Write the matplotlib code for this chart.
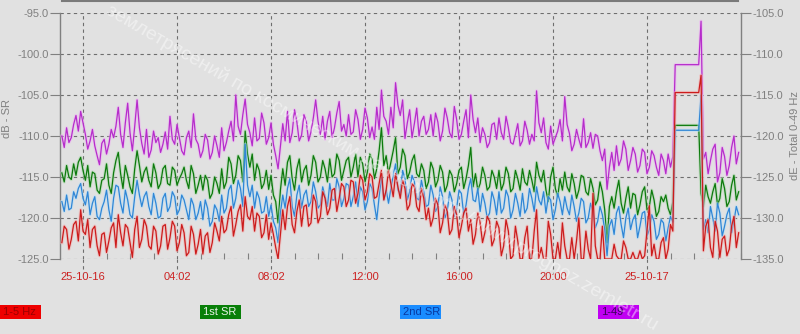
import numpy as np
import matplotlib.pyplot as plt
import matplotlib.patheffects as pe
from matplotlib.lines import Line2D
from matplotlib.patches import Rectangle
from matplotlib.ticker import MultipleLocator, FormatStrFormatter

# time axis: hours from 25-10-16 00:00, one sample every 0.1 h (one row = 1 h)
t_start = -0.9
t_step = 0.1

total_0_49 = [
    -110.0, -111.4, -109.0, -110.8, -110.2, -108.6, -107.5, -109.4, -107.0, -108.4,
    -109.8, -111.6, -110.6, -109.2, -111.2, -112.4, -113.5, -110.9, -110.4, -112.2,
    -111.0, -109.2, -110.2, -108.8, -106.5, -109.8, -111.4, -108.4, -106.0, -109.6,
    -111.8, -108.8, -105.6, -109.0, -110.9, -112.2, -109.2, -112.6, -111.7, -109.4,
    -110.8, -110.2, -112.0, -111.0, -109.5, -111.6, -107.6, -110.4, -111.0, -108.6,
    -110.2, -111.8, -112.3, -110.2, -109.4, -111.4, -107.3, -110.4, -111.0, -112.6,
    -111.8, -109.8, -110.5, -112.8, -112.0, -110.0, -111.2, -112.6, -109.0, -111.8,
    -110.8, -109.4, -108.2, -110.6, -105.0, -108.8, -109.8, -107.4, -105.5, -108.6,
    -109.6, -111.2, -107.8, -110.6, -110.3, -107.2, -108.4, -111.0, -110.2, -108.4,
    -111.0, -112.4, -114.0, -111.2, -108.5, -110.6, -107.0, -110.8, -109.6, -106.8,
    -108.3, -110.6, -109.9, -107.4, -108.2, -110.6, -109.5, -107.8, -105.6, -108.2,
    -109.8, -107.6, -110.4, -108.2, -107.0, -110.2, -109.0, -107.2, -105.8, -109.4,
    -108.6, -110.0, -107.4, -109.8, -109.5, -106.8, -108.0, -110.4, -109.2, -106.6,
    -107.8, -110.2, -108.9, -110.4, -106.5, -109.2, -104.4, -107.6, -108.2, -109.8,
    -106.5, -109.0, -103.5, -106.2, -107.5, -105.6, -110.3, -108.4, -106.8, -110.2,
    -108.5, -106.6, -110.0, -108.2, -107.6, -109.8, -109.2, -107.4, -110.0, -107.2,
    -108.3, -110.6, -109.4, -106.6, -107.8, -109.6, -110.2, -106.4, -108.0, -110.4,
    -109.8, -108.2, -106.8, -110.2, -105.0, -108.0, -109.6, -107.8, -110.8, -109.0,
    -109.8, -111.4, -110.8, -108.6, -108.4, -110.4, -107.8, -109.6, -110.4, -107.6,
    -109.0, -110.8, -111.0, -109.8, -108.5, -111.2, -110.6, -108.2, -109.3, -111.0,
    -109.8, -110.6, -104.5, -108.4, -109.6, -107.8, -110.8, -111.6, -108.8, -111.0,
    -110.2, -109.4, -108.0, -110.6, -105.2, -108.6, -109.7, -111.8, -111.0, -109.2,
    -110.4, -111.4, -107.9, -111.4, -110.8, -109.6, -111.5, -109.8, -110.0, -111.8,
    -113.0, -111.6, -116.5, -113.8, -112.0, -114.2, -111.2, -113.6, -112.8, -110.6,
    -111.6, -114.2, -113.0, -111.4, -112.2, -114.4, -113.6, -111.6, -112.0, -114.6,
    -113.8, -111.8, -112.4, -113.8, -114.8, -112.2, -113.0, -114.6, -112.2, -113.8,
    -112.5, -101.3, -101.3, -101.3, -101.3, -101.3, -101.3, -101.3, -101.3, -101.3,
    -101.3, -101.3, -96.0, -112.8, -112.0, -114.6, -113.0, -111.6, -111.0, -115.6,
    -114.5, -111.4, -112.5, -114.8, -113.6, -111.4, -110.0, -113.4, -112.0,
]

sr_1st = [
    -114.5, -115.6, -113.6, -115.0, -115.3, -113.4, -114.8, -113.2, -112.6, -114.2,
    -115.4, -113.6, -116.2, -114.4, -114.6, -116.6, -117.0, -115.4, -115.2, -113.4,
    -116.0, -117.0, -114.5, -113.0, -112.0, -114.6, -116.4, -113.6, -114.8, -116.2,
    -117.0, -114.0, -111.8, -113.6, -115.6, -114.4, -113.8, -115.4, -116.2, -113.4,
    -114.5, -116.4, -115.8, -114.0, -113.6, -115.8, -116.0, -113.8, -114.2, -116.0,
    -115.2, -114.6, -113.8, -115.4, -116.4, -113.6, -114.6, -117.0, -116.0, -114.8,
    -116.6, -114.8, -115.4, -117.6, -117.0, -115.0, -115.8, -117.0, -114.0, -116.4,
    -115.6, -112.6, -113.4, -115.8, -114.8, -112.4, -113.0, -115.6, -109.4, -112.2,
    -113.8, -112.2, -115.4, -113.4, -114.2, -116.4, -115.8, -114.2, -116.5, -114.8,
    -117.2, -118.0, -120.6, -116.6, -114.0, -116.0, -113.2, -112.4, -115.2, -116.6,
    -114.0, -112.8, -115.6, -114.2, -113.6, -116.0, -114.8, -112.4, -113.2, -115.6,
    -115.0, -113.0, -114.0, -115.6, -112.8, -115.0, -114.6, -112.2, -113.0, -115.4,
    -114.2, -113.0, -112.6, -115.0, -113.8, -112.2, -115.0, -112.6, -113.4, -115.6,
    -114.4, -112.2, -112.8, -115.2, -114.0, -111.8, -109.0, -113.6, -112.4, -114.6,
    -113.2, -111.8, -110.2, -114.6, -113.8, -111.6, -112.4, -115.2, -114.4, -113.0,
    -112.3, -114.6, -115.0, -113.4, -114.2, -116.4, -115.6, -113.2, -114.0, -116.2,
    -115.4, -113.6, -114.4, -116.8, -116.0, -114.2, -114.8, -116.8, -115.8, -114.2,
    -113.8, -116.4, -115.2, -113.6, -111.4, -116.2, -114.6, -116.6, -115.8, -113.8,
    -114.8, -116.6, -116.2, -114.2, -115.0, -116.4, -114.2, -116.6, -115.8, -113.8,
    -114.6, -116.8, -116.4, -114.2, -115.2, -116.6, -114.0, -115.6, -116.0, -114.2,
    -115.4, -116.8, -113.2, -114.8, -115.6, -114.2, -116.6, -118.0, -115.0, -113.8,
    -116.4, -117.4, -115.2, -116.6, -114.4, -116.2, -116.8, -114.6, -115.8, -117.6,
    -116.6, -114.8, -115.0, -116.8, -117.2, -115.2, -116.4, -118.4, -117.8, -115.6,
    -116.8, -119.0, -123.0, -118.6, -117.4, -118.8, -116.8, -115.4, -118.2, -119.4,
    -117.6, -116.2, -118.8, -117.0, -117.2, -119.6, -118.4, -116.8, -116.2, -119.0,
    -118.6, -116.6, -117.8, -119.8, -119.2, -117.4, -118.0, -117.2, -118.8, -119.6,
    -118.0, -108.7, -108.7, -108.7, -108.7, -108.7, -108.7, -108.7, -108.7, -108.7,
    -108.7, -108.7, -117.0, -118.6, -116.0, -117.4, -118.2, -116.8, -115.8, -118.4,
    -117.6, -115.2, -116.4, -118.6, -118.0, -116.0, -114.8, -117.8, -116.8,
]

sr_2nd = [
    -118.0, -119.2, -117.2, -119.0, -118.8, -116.8, -117.6, -116.4, -115.8, -117.6,
    -118.4, -116.8, -119.6, -118.2, -117.4, -119.8, -120.2, -118.8, -118.0, -116.6,
    -119.0, -120.4, -117.6, -116.0, -116.2, -118.2, -119.4, -116.6, -117.8, -119.6,
    -120.0, -117.4, -115.4, -117.2, -118.6, -117.4, -116.8, -118.6, -119.6, -117.0,
    -118.2, -120.0, -119.8, -117.6, -117.0, -119.2, -118.6, -116.8, -117.4, -119.6,
    -119.0, -117.2, -117.8, -119.0, -120.2, -117.6, -118.4, -120.2, -119.4, -118.0,
    -120.2, -117.8, -118.8, -121.0, -120.4, -118.4, -119.0, -120.4, -117.2, -119.4,
    -118.8, -116.6, -116.0, -118.8, -117.6, -115.4, -116.4, -118.6, -111.0, -116.0,
    -117.4, -116.0, -118.8, -116.8, -117.6, -119.4, -119.2, -117.4, -119.8, -118.4,
    -120.4, -121.2, -123.0, -119.4, -117.2, -118.8, -116.4, -115.2, -118.6, -119.8,
    -117.2, -116.0, -118.8, -117.2, -116.6, -118.6, -118.0, -115.6, -116.8, -118.8,
    -118.4, -116.2, -117.4, -118.6, -115.8, -117.8, -117.8, -115.2, -116.2, -118.6,
    -117.6, -115.8, -116.0, -118.6, -117.4, -115.6, -118.6, -116.2, -116.8, -119.0,
    -118.0, -115.8, -116.4, -118.4, -120.2, -117.4, -115.0, -117.8, -116.6, -118.2,
    -116.4, -114.8, -113.4, -116.6, -117.0, -114.2, -115.2, -117.8, -116.8, -114.8,
    -115.6, -117.6, -117.8, -115.4, -116.8, -118.6, -118.4, -116.0, -117.2, -119.2,
    -118.6, -116.2, -117.4, -120.0, -119.2, -116.8, -117.8, -119.8, -118.8, -116.6,
    -117.0, -119.6, -118.4, -116.4, -115.2, -117.8, -118.0, -116.4, -119.2, -117.0,
    -118.2, -120.0, -119.4, -116.8, -117.8, -119.6, -116.8, -119.4, -118.8, -116.6,
    -117.4, -120.0, -119.0, -117.0, -118.2, -119.8, -117.0, -119.4, -118.8, -116.4,
    -117.6, -119.2, -116.2, -117.8, -118.4, -116.8, -119.4, -117.4, -117.8, -120.2,
    -119.0, -117.0, -118.0, -119.6, -117.4, -118.8, -119.6, -117.2, -118.6, -120.4,
    -119.4, -117.6, -118.0, -120.6, -120.0, -118.2, -119.2, -121.2, -120.4, -118.6,
    -119.6, -121.4, -124.6, -121.0, -120.2, -122.0, -119.4, -118.6, -120.8, -122.4,
    -120.0, -118.8, -121.4, -120.2, -119.6, -122.4, -121.0, -119.4, -119.2, -122.2,
    -121.4, -119.6, -120.4, -122.6, -122.0, -120.2, -120.6, -122.8, -121.2, -119.8,
    -120.5, -109.3, -109.3, -109.3, -109.3, -109.3, -109.3, -109.3, -109.3, -109.3,
    -109.3, -109.3, -105.0, -121.4, -120.2, -121.8, -118.6, -120.0, -121.6, -118.2,
    -119.4, -122.2, -121.0, -119.6, -118.8, -121.8, -120.4, -118.6, -119.6,
]

hz_1_5 = [
    -123.0, -121.0, -121.4, -123.8, -122.6, -120.8, -120.4, -122.8, -119.0, -121.6,
    -122.0, -120.2, -123.6, -121.4, -121.0, -123.4, -124.6, -122.0, -121.8, -124.2,
    -122.8, -121.2, -120.6, -123.6, -119.6, -121.8, -123.4, -120.8, -121.2, -123.0,
    -124.8, -121.4, -119.8, -123.6, -122.6, -120.2, -121.0, -123.4, -123.8, -121.0,
    -121.6, -124.4, -123.4, -121.0, -120.8, -123.8, -122.4, -120.4, -121.0, -124.0,
    -123.0, -120.8, -121.8, -124.6, -124.2, -121.0, -122.0, -124.4, -123.2, -121.4,
    -124.4, -122.2, -121.8, -124.2, -123.0, -120.6, -121.6, -122.8, -119.8, -121.8,
    -121.4, -119.6, -118.6, -122.2, -120.8, -119.2, -118.4, -121.6, -117.4, -119.8,
    -120.2, -118.6, -121.6, -119.4, -119.8, -122.4, -121.8, -119.6, -122.6, -120.6,
    -122.0, -123.6, -125.0, -122.0, -119.0, -121.4, -118.6, -117.4, -120.8, -121.8,
    -119.2, -117.8, -121.0, -118.6, -118.4, -121.0, -120.6, -117.2, -118.0, -120.6,
    -119.8, -116.8, -117.6, -119.6, -118.8, -116.6, -116.4, -119.2, -117.6, -115.8,
    -116.2, -118.6, -117.8, -115.4, -115.6, -118.2, -117.0, -114.8, -115.4, -117.8,
    -116.8, -114.6, -115.0, -117.6, -117.4, -115.8, -114.2, -117.8, -116.6, -114.2,
    -115.8, -117.4, -114.6, -116.2, -117.6, -115.4, -116.4, -119.0, -118.4, -115.8,
    -116.2, -118.6, -119.2, -116.4, -117.6, -120.2, -118.8, -121.0, -120.0, -117.6,
    -118.4, -121.8, -120.6, -118.4, -119.2, -122.0, -121.4, -118.6, -119.6, -122.4,
    -121.0, -119.4, -118.8, -121.6, -120.2, -123.2, -122.0, -119.4, -120.6, -123.0,
    -121.8, -119.8, -120.4, -123.4, -122.6, -120.4, -121.2, -124.6, -123.4, -120.2,
    -121.6, -125.0, -124.6, -121.0, -122.8, -125.0, -125.0, -122.4, -121.0, -125.0,
    -125.0, -121.6, -119.0, -125.0, -123.6, -125.0, -125.0, -120.4, -122.0, -125.0,
    -125.0, -123.0, -125.0, -120.6, -123.4, -125.0, -125.0, -122.4, -125.0, -122.8,
    -120.0, -125.0, -125.0, -121.6, -123.8, -125.0, -117.0, -123.4, -125.0, -125.0,
    -121.0, -125.0, -125.0, -125.0, -125.0, -123.2, -124.6, -125.0, -125.0, -122.8,
    -123.6, -125.0, -125.0, -124.2, -125.0, -125.0, -124.0, -125.0, -124.6, -121.6,
    -118.5, -124.6, -123.2, -125.0, -125.0, -123.0, -122.4, -125.0, -123.8, -120.8,
    -121.6, -104.7, -104.7, -104.7, -104.7, -104.7, -104.7, -104.7, -104.7, -104.7,
    -104.7, -104.7, -102.6, -124.0, -121.0, -120.2, -123.6, -124.8, -120.4, -121.6,
    -124.8, -122.6, -122.2, -124.6, -123.8, -121.0, -119.8, -123.6, -121.8,
]

x_ticks = [0, 4, 8, 12, 16, 20, 24]
x_labels = ['25-10-16', '04:02', '08:02', '12:00', '16:00', '20:00', '25-10-17']
legend_labels = ['1-5 Hz', '1st SR', '2nd SR', '1-49']

hours = t_start + t_step * np.arange(len(hz_1_5))

plt.rcParams['font.family'] = ['Liberation Sans', 'DejaVu Sans']
bg = '#e1e1e1'
gray = '#808080'

fig = plt.figure(figsize=(8, 3.34), dpi=100, facecolor=bg)
ax = fig.add_axes([60 / 800, 1 - 259 / 334, 681 / 800, 246 / 334])
ax.set_facecolor(bg)

series = [
    (total_0_49, '#b62ccb', '#eeb0f4'),
    (sr_1st, '#0d7a0d', '#a8d8a8'),
    (sr_2nd, '#2f86d6', '#b4def8'),
    (hz_1_5, '#cc1c1c', '#f4aaaa'),
]
for vals, col, halo in series:
    ax.plot(hours, vals, color=col, linewidth=0.9, zorder=3,
            path_effects=[pe.Stroke(linewidth=2.4, foreground=halo, alpha=0.5), pe.Normal()])

ax.set_xlim(-0.98, 28.0)
ax.set_ylim(-125, -95)
ax.yaxis.set_major_locator(MultipleLocator(5))
ax.yaxis.set_major_formatter(FormatStrFormatter('%.1f'))
ax.set_xticks(x_ticks)
ax.set_xticklabels(x_labels)
ax.xaxis.set_minor_locator(MultipleLocator(1))
ax.tick_params(axis='x', which='major', length=0, pad=9, labelsize=8, labelcolor='#cc2222')
ax.tick_params(axis='x', which='minor', direction='in', length=4, color=gray, width=0.8)
ax.tick_params(axis='y', length=7, width=0.8, color=gray, labelsize=8, labelcolor=gray, pad=1)
ax.grid(True, which='major', color='#6e6e6e', linestyle=(0, (3, 3)), linewidth=0.8)
ax.set_axisbelow(True)
for s in ['top', 'bottom']:
    ax.spines[s].set_visible(False)
for s in ['left', 'right']:
    ax.spines[s].set_color(gray)
    ax.spines[s].set_linewidth(1.0)

# dashed grid extension below the plot down to the time labels
for t in x_ticks:
    ax.plot([t, t], [0, -0.055], transform=ax.get_xaxis_transform(), clip_on=False,
            color='#6e6e6e', linestyle=(0, (3, 3)), linewidth=0.8)

ax.set_ylabel('dB - SR', color=gray, fontsize=8)
ax.yaxis.set_label_coords(-0.07, 0.57)

ax2 = ax.twinx()
ax2.set_ylim(-135, -105)
ax2.yaxis.set_major_locator(MultipleLocator(5))
ax2.yaxis.set_major_formatter(FormatStrFormatter('%.1f'))
ax2.tick_params(axis='y', length=7, width=0.8, color=gray, labelsize=8, labelcolor=gray, pad=1)
for s in ax2.spines.values():
    s.set_visible(False)
ax2.set_ylabel('dE - Total 0-49 Hz', color=gray, fontsize=8, rotation=90)
ax2.yaxis.set_label_coords(1.072, 0.5)

# top frame line
fig.add_artist(Line2D([62 / 800, 738 / 800], [1 - 1 / 334, 1 - 1 / 334], color='#7a7a7a', linewidth=1.5))

# legend boxes along the bottom
box_colors = ['#ee0000', '#087f08', '#1a8cff', '#c000f2']
text_colors = ['#9a0000', '#e8f4e8', '#0838a0', '#3a005a']
box_x = [0, 200, 400, 598]
for lab, bc, tc, bx in zip(legend_labels, box_colors, text_colors, box_x):
    fig.add_artist(Rectangle((bx / 800, 1 - 319 / 334), 41 / 800, 14 / 334,
                             transform=fig.transFigure, facecolor=bc, edgecolor='none'))
    fig.text((bx + 3) / 800, 1 - 312 / 334, lab, color=tc, fontsize=8, va='center', ha='left')

# faint watermark
fig.text(105 / 800, 1 - 14 / 334, 'землетрясений по космическим данным  http://www.prognoz.zemletr.ru',
         rotation=-30, rotation_mode='anchor', ha='left', va='baseline',
         color='white', alpha=0.45, fontsize=14, zorder=10)

fig.savefig('out.png', dpi=100, facecolor=bg)
